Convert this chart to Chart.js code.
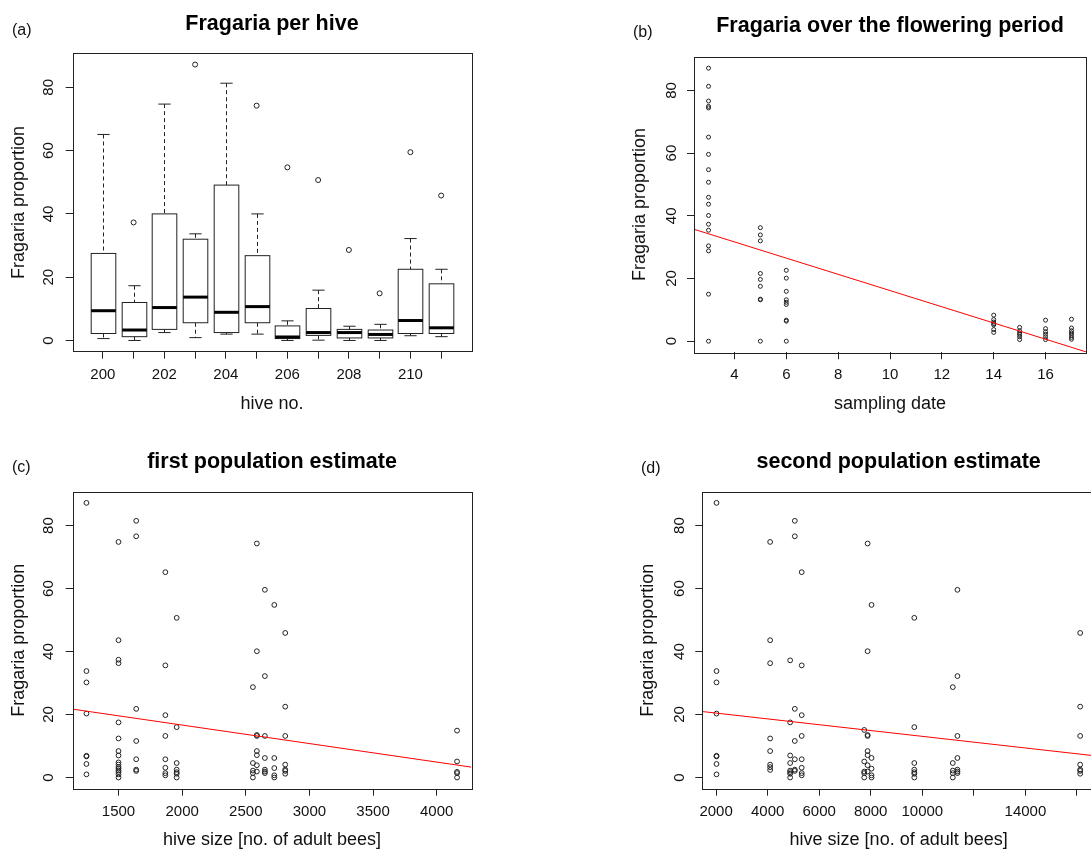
<!DOCTYPE html>
<html>
<head>
<meta charset="utf-8">
<script src="https://cdn.jsdelivr.net/npm/chart.js@4.4.0/dist/chart.umd.min.js"></script>
<style>
  html, body { margin: 0; padding: 0; background: #fff; overflow: hidden; width: 1091px; height: 853px; }
  .panel { position: absolute; }
  .tag { position: absolute; font: 16px/16px "Liberation Sans", Arial, sans-serif; color: #111; }
</style>
</head>
<body>
<div class="panel" style="left:0;top:0"><canvas id="chartA" width="545" height="426"></canvas></div>
<div class="panel" style="left:620px;top:0"><canvas id="chartB" width="471" height="426"></canvas></div>
<div class="panel" style="left:0;top:426px"><canvas id="chartC" width="545" height="427"></canvas></div>
<div class="panel" style="left:620px;top:426px"><canvas id="chartD" width="480" height="427"></canvas></div>
<span class="tag" style="left:12px;top:22px">(a)</span>
<span class="tag" style="left:633px;top:24px">(b)</span>
<span class="tag" style="left:12px;top:459px">(c)</span>
<span class="tag" style="left:641px;top:460px">(d)</span>
<script>
// ---- (a) Fragaria per hive (boxplot stats per hive) ----
const hives = [200, 201, 202, 203, 204, 205, 206, 207, 208, 209, 210, 211];
const hiveLabels = ["200", "", "202", "", "204", "", "206", "", "208", "", "210", ""];
const whiskerLow = [0.6, 0, 2.5, 0.9, 2.0, 2.0, 0, 0.1, 0, 0, 1.5, 1.2];
const lowerQuart = [2.2, 1.2, 3.5, 5.6, 2.5, 5.6, 0.6, 1.6, 0.8, 0.8, 2.2, 2.2];
const medians = [9.4, 3.3, 10.4, 13.7, 8.9, 10.7, 1.1, 2.5, 2.5, 1.9, 6.3, 4.0];
const upperQuart = [27.5, 12.0, 40.0, 32.0, 49.1, 26.8, 4.6, 10.1, 3.5, 3.3, 22.5, 17.9];
const whiskerHigh = [65.1, 17.3, 74.7, 33.7, 81.3, 40.0, 6.2, 15.9, 4.5, 5.1, 32.2, 22.5];
const outlierHives = [201, 203, 205, 206, 207, 208, 209, 210, 211];
const outlierValues = [37.3, 87.2, 74.2, 54.7, 50.7, 28.6, 14.9, 59.5, 45.8];

// ---- (b) Fragaria over the flowering period ----
const samplingDates = [3, 5, 6, 14, 15, 16, 17];
const dateValues = [
  [87.1, 81.3, 76.6, 74.9, 74.4, 65.1, 59.6, 54.7, 50.7, 45.9, 43.7, 40.1, 37.3, 35.4, 30.4, 28.8, 15.0, 0],
  [36.2, 33.9, 32.0, 21.6, 19.7, 17.5, 13.4, 13.2, 0],
  [22.6, 20.1, 15.9, 13.2, 12.4, 11.7, 6.7, 6.4, 0],
  [8.3, 6.9, 6.1, 5.6, 5.2, 3.7, 2.8],
  [4.4, 3.3, 2.6, 2.1, 1.4, 0.5],
  [6.7, 4.0, 3.0, 2.2, 1.4, 0.5],
  [7.0, 4.2, 3.3, 2.6, 1.9, 1.2, 0.6]
];
const dateFit = { intercept: 42.0, slope: -2.586 };
const dateTicks = [4, 6, 8, 10, 12, 14, 16];

// ---- (c) first population estimate ----
const firstSizes = [1248, 1500, 1639, 1868, 1957, 2556, 2587, 2650, 2724, 2810, 4160];
const firstValues = [
  [87.2, 33.8, 30.2, 20.3, 6.9, 6.7, 4.3, 1.0],
  [74.8, 43.6, 37.4, 36.3, 17.5, 12.4, 8.4, 7.0, 4.8, 4.1, 3.3, 2.8, 2.2, 1.7, 1.0, 0],
  [81.5, 76.6, 21.8, 11.6, 5.8, 2.5, 2.1],
  [65.2, 35.6, 19.8, 13.2, 5.8, 3.1, 1.4, 0.7],
  [50.7, 16.0, 4.6, 2.5, 1.7, 1.2, 0],
  [28.7, 4.6, 2.2, 1.4, 0],
  [74.3, 40.1, 13.5, 13.2, 8.4, 7.1, 3.9, 1.9],
  [59.6, 32.2, 13.2, 6.2, 2.5, 1.9, 1.4],
  [54.8, 6.2, 3.0, 0.7, 0],
  [45.9, 22.5, 13.2, 4.1, 2.5, 2.1, 1.2],
  [14.9, 5.1, 1.8, 1.4, 0]
];
const firstFit = { intercept: 28.4, slope: -0.005875 };
const firstTicks = [1500, 2000, 2500, 3000, 3500, 4000];

// ---- (d) second population estimate ----
const secondSizes = [2015, 4096, 4873, 5053, 5321, 7747, 7877, 8030, 9689, 11183, 11362, 16125];
const secondValues = [
  [87.2, 33.8, 30.2, 20.3, 6.9, 6.7, 4.3, 1.0],
  [74.8, 43.6, 36.3, 12.4, 8.4, 4.1, 3.3, 2.4],
  [37.2, 17.5, 7.0, 4.6, 2.2, 1.7, 1.2, 0],
  [81.5, 76.6, 21.8, 11.6, 5.8, 2.5, 2.1],
  [65.2, 35.6, 19.8, 13.2, 5.8, 3.1, 1.4, 0.7],
  [15.1, 5.1, 1.9, 1.4, 0],
  [74.3, 40.1, 13.5, 13.2, 8.4, 7.1, 3.9, 1.9],
  [54.8, 6.2, 2.8, 0.7, 0],
  [50.7, 16.0, 4.6, 2.5, 1.7, 1.2, 0],
  [28.7, 4.6, 2.2, 1.4, 0],
  [59.6, 32.2, 13.2, 6.2, 2.5, 1.9, 1.4],
  [45.9, 22.5, 13.2, 4.1, 2.5, 2.1, 1.2]
];
const secondFit = { intercept: 22.3, slope: -0.000923 };
const secondTicks = [2000, 4000, 6000, 8000, 10000, 12000, 14000, 16000];
const secondLabels = ["2000", "4000", "6000", "8000", "10000", "", "14000", ""];

const yTicks = [0, 20, 40, 60, 80];
const Y_MIN = -3.55, Y_MAX = 90.75;

const FONT = '"Liberation Sans", Arial, sans-serif';
const INK = "#111";
Chart.defaults.font.family = FONT;
Chart.defaults.color = INK;
Chart.defaults.animation = false;

// frame around the plot region, like R's box()
const framePlugin = {
  id: "frame",
  afterDatasetsDraw(chart) {
    const { ctx, chartArea: a } = chart;
    ctx.save();
    ctx.strokeStyle = "#222";
    ctx.lineWidth = 1;
    ctx.strokeRect(Math.round(a.left) + 0.5, Math.round(a.top) + 0.5,
      Math.round(a.width), Math.round(a.height));
    ctx.restore();
  }
};

// R style boxplot drawn through the chart scales
const boxPlugin = {
  id: "boxes",
  beforeDatasetsDraw(chart) {
    const { ctx } = chart;
    const xs = chart.scales.x, ys = chart.scales.y;
    const py = v => ys.getPixelForValue(v);
    const seg = (x1, y1, x2, y2) => { ctx.beginPath(); ctx.moveTo(x1, y1); ctx.lineTo(x2, y2); ctx.stroke(); };
    ctx.save();
    ctx.strokeStyle = "#222";
    ctx.lineWidth = 1;
    hives.forEach((h, i) => {
      const cx = Math.round(xs.getPixelForValue(h)) + 0.5;
      const half = xs.getPixelForValue(h + 0.4) - xs.getPixelForValue(h);
      const cap = half / 2;
      ctx.setLineDash([4, 3]);
      seg(cx, py(whiskerHigh[i]), cx, py(upperQuart[i]));
      seg(cx, py(lowerQuart[i]), cx, py(whiskerLow[i]));
      ctx.setLineDash([]);
      seg(cx - cap, py(whiskerHigh[i]), cx + cap, py(whiskerHigh[i]));
      seg(cx - cap, py(whiskerLow[i]), cx + cap, py(whiskerLow[i]));
      ctx.fillStyle = "#fff";
      const top = py(upperQuart[i]), bot = py(lowerQuart[i]);
      ctx.fillRect(cx - half, top, half * 2, bot - top);
      ctx.strokeRect(cx - half, top, half * 2, bot - top);
      ctx.lineWidth = 3;
      ctx.strokeStyle = "#000";
      seg(cx - half, py(medians[i]), cx + half, py(medians[i]));
      ctx.lineWidth = 1;
      ctx.strokeStyle = "#222";
    });
    ctx.restore();
  }
};

function grouped(xs, groups) {
  return xs.flatMap((x, i) => groups[i].map(v => ({ x: x, y: v })));
}

function fitLine(fit, x0, x1) {
  return [x0, x1].map(x => ({ x: x, y: fit.intercept + fit.slope * x }));
}

function pointSet(data, r) {
  return {
    type: "scatter", data: data, pointRadius: r, pointStyle: "circle",
    pointBorderWidth: 1, pointBorderColor: "#222", pointBackgroundColor: "rgba(0,0,0,0)"
  };
}

function lineSet(data) {
  return {
    type: "scatter", data: data, showLine: true, pointRadius: 0,
    borderColor: "#ff0000", borderWidth: 1
  };
}

// L = layout, all offsets measured inside each canvas
function makeChart(id, L) {
  new Chart(document.getElementById(id), {
    type: "scatter",
    data: { datasets: L.datasets },
    plugins: L.plugins,
    options: {
      responsive: false,
      events: [],
      layout: { padding: { left: 0, top: 0, bottom: 0, right: L.padRight } },
      plugins: {
        legend: { display: false },
        tooltip: { enabled: false },
        title: {
          display: true, text: L.title, fullSize: false, color: "#000",
          font: { size: 21.5, weight: "bold", family: FONT },
          padding: { top: L.titleTop, bottom: L.titleBottom }
        }
      },
      scales: {
        x: {
          type: "linear", min: L.xMin, max: L.xMax,
          afterBuildTicks: s => { s.ticks = L.xTicks.map(v => ({ value: v })); },
          afterFit: s => { s.height = L.xHeight; },
          ticks: {
            autoSkip: false, maxRotation: 0, minRotation: 0, padding: L.xTickPad,
            font: { size: 15 }, color: INK,
            callback: (v, i) => L.xLabels ? L.xLabels[i] : String(v)
          },
          grid: { drawOnChartArea: false, drawTicks: true, tickLength: 7, color: "#222" },
          border: { display: false },
          title: {
            display: true, text: L.xTitle, color: INK, font: { size: 18 },
            padding: { top: 0, bottom: L.xTitlePad }
          }
        },
        y: {
          type: "linear", min: Y_MIN, max: Y_MAX,
          afterBuildTicks: s => { s.ticks = yTicks.map(v => ({ value: v })); },
          afterFit: s => { s.width = L.yWidth; },
          ticks: {
            autoSkip: false, minRotation: 90, maxRotation: 90, crossAlign: "center",
            padding: L.yTickPad, font: { size: 15 }, color: INK
          },
          grid: { drawOnChartArea: false, drawTicks: true, tickLength: 7, color: "#222" },
          border: { display: false },
          title: {
            display: true, text: "Fragaria proportion", color: INK, font: { size: 18 },
            padding: { top: L.yTitlePad, bottom: 0 }
          }
        }
      }
    }
  });
}

makeChart("chartA", {
  title: "Fragaria per hive", xTitle: "hive no.",
  datasets: [pointSet(outlierHives.map((h, i) => ({ x: h, y: outlierValues[i] })), 2.5)],
  plugins: [boxPlugin, framePlugin],
  xMin: 199.02, xMax: 211.98, xTicks: hives, xLabels: hiveLabels,
  padRight: 73.7, titleTop: 11.3, titleBottom: 16.2,
  xHeight: 74.3, yWidth: 72.7, xTickPad: 7.1, xTitlePad: 11.2, yTickPad: 8, yTitlePad: 8
});

makeChart("chartB", {
  title: "Fragaria over the flowering period", xTitle: "sampling date",
  datasets: [lineSet(fitLine(dateFit, 2.44, 17.56)), pointSet(grouped(samplingDates, dateValues), 2)],
  plugins: [framePlugin],
  xMin: 2.44, xMax: 17.56, xTicks: dateTicks,
  padRight: 3.3, titleTop: 12.9, titleBottom: 18,
  xHeight: 73.7, yWidth: 74, xTickPad: 6.5, xTitlePad: 11.4, yTickPad: 6.6, yTitlePad: 9.2
});

makeChart("chartC", {
  title: "first population estimate", xTitle: "hive size [no. of adult bees]",
  datasets: [lineSet(fitLine(firstFit, 1140, 4272)), pointSet(grouped(firstSizes, firstValues), 2.4)],
  plugins: [framePlugin],
  xMin: 1140, xMax: 4272, xTicks: firstTicks,
  padRight: 73.7, titleTop: 23.6, titleBottom: 16.3,
  xHeight: 64.3, yWidth: 72.7, xTickPad: 6.8, xTitlePad: 1.7, yTickPad: 8, yTitlePad: 8
});

makeChart("chartD", {
  title: "second population estimate", xTitle: "hive size [no. of adult bees]",
  datasets: [lineSet(fitLine(secondFit, 1464, 16700)), pointSet(grouped(secondSizes, secondValues), 2.4)],
  plugins: [framePlugin],
  xMin: 1464, xMax: 16700, xTicks: secondTicks, xLabels: secondLabels,
  padRight: 0, titleTop: 23.6, titleBottom: 16.3,
  xHeight: 64.3, yWidth: 82.3, xTickPad: 6.8, xTitlePad: 1.7, yTickPad: 6.6, yTitlePad: 17
});
</script>
</body>
</html>
